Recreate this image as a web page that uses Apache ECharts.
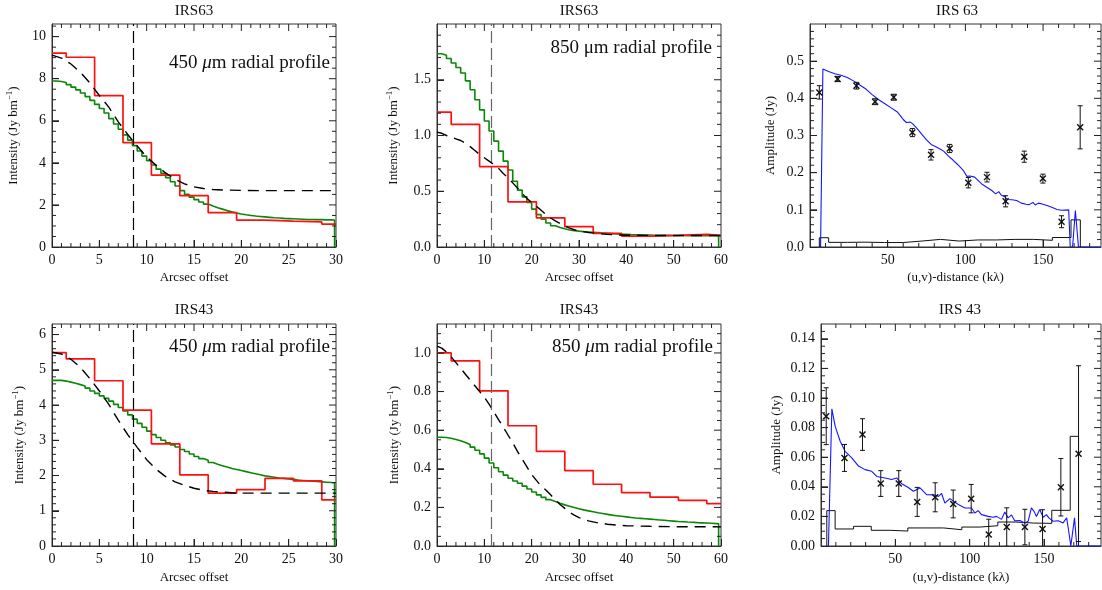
<!DOCTYPE html>
<html><head><meta charset="utf-8">
<script src="https://cdn.jsdelivr.net/npm/echarts@6/dist/echarts.min.js"></script>
<style>html,body{margin:0;padding:0;background:#fff}#c{width:1102px;height:590px}</style>
</head><body><div id="c"></div>
<script>
// ================= DATA =================
const redEdges450 = [0,1.5,4.5,7.5,10.5,13.5,16.5,19.5,22.5,25.5,28.5,30];
const redEdges850 = [0,3,9,15,21,27,33,39,45,51,57,60];
const greenStep450 = 0.5, greenEnd450 = 29.85;
const greenStep850 = 1.0, greenEnd850 = 59.5;
const beam450 = 8.6, beam850 = 11.5;

const red63_450 = [9.22,9.02,7.2,4.96,3.42,2.44,1.63,1.28,1.23,1.19,1.09];
const green63_450 = [7.89,7.87,7.82,7.72,7.6,7.47,7.32,7.15,6.97,6.78,
  6.58,6.37,6.1,5.85,5.6,5.33,5.08,4.82,4.56,4.32,
  4.1,3.9,3.7,3.5,3.3,3.1,2.9,2.68,2.5,2.37,
  2.25,2.14,2.04,1.95,1.87,1.8,1.73,1.67,1.62,1.57,
  1.53,1.5,1.47,1.45,1.43,1.41,1.39,1.38,1.36,1.35,
  1.34,1.33,1.32,1.31,1.31,1.3,1.3,1.29,1.29,1.28];
const dash63_450x = [0,1,2,3,4,5,6,7,8,9,10,11,12,13,14,15,16,17,18,20,22,25,30];
const dash63_450y = [9.12,8.98,8.7,8.3,7.8,7.2,6.65,5.95,5.35,4.8,4.28,3.88,3.52,3.22,3.0,2.86,2.78,2.73,2.71,2.69,2.68,2.68,2.68];

const red63_850 = [1.21,1.10,0.72,0.405,0.262,0.182,0.122,0.098,0.104,0.113,0.104];
const green63_850 = [1.733,1.72,1.69,1.65,1.61,1.56,1.49,1.41,1.32,1.23,
  1.13,1.04,0.95,0.86,0.77,0.69,0.59,0.51,0.45,0.4,
  0.34,0.29,0.25,0.215,0.19,0.175,0.163,0.153,0.147,0.142,
  0.138,0.135,0.132,0.129,0.126,0.123,0.12,0.117,0.115,0.113,
  0.111,0.11,0.109,0.108,0.107,0.106,0.105,0.104,0.104,0.103,
  0.103,0.103,0.102,0.102,0.102,0.102,0.101,0.101,0.101,0.101];
const dash63_850x = [0,1,2,3,4,5,6,7,8,9,10,11,12,13,14,15,16,17,18,19,20,21,22,23,24,25,26,27,28,29,30,32,34,36,38,40,45,50,55,60];
const dash63_850y = [1.03,1.02,1.0,0.985,0.97,0.955,0.93,0.9,0.865,0.83,0.8,0.77,0.74,0.705,0.66,0.62,0.575,0.53,0.48,0.435,0.4,0.365,0.33,0.29,0.26,0.235,0.21,0.19,0.17,0.155,0.145,0.13,0.12,0.113,0.108,0.105,0.104,0.103,0.103,0.103];

const red43_450 = [5.49,5.31,4.69,3.855,2.9,2.02,1.5,1.6,1.92,1.85,1.31];
const green43_450 = [4.70,4.70,4.68,4.65,4.62,4.58,4.54,4.48,4.4,4.33,
  4.26,4.19,4.11,4.02,3.93,3.83,3.72,3.6,3.48,3.37,
  3.26,3.16,3.08,3.0,2.93,2.87,2.81,2.74,2.68,2.61,
  2.54,2.48,2.43,2.37,2.32,2.28,2.24,2.2,2.17,2.14,
  2.11,2.08,2.05,2.02,1.99,1.97,1.95,1.93,1.92,1.9,
  1.89,1.87,1.86,1.85,1.84,1.83,1.82,1.81,1.8,1.79];
const dash43_450x = [0,1,2,3,4,5,6,7,8,9,10,11,12,13,14,15,16,17,18,19,20,25,30];
const dash43_450y = [5.5,5.45,5.3,5.07,4.75,4.4,4.02,3.57,3.16,2.8,2.45,2.18,1.97,1.82,1.72,1.64,1.58,1.55,1.53,1.51,1.5,1.5,1.5];

const red43_850 = [1.0,0.959,0.804,0.623,0.49,0.39,0.32,0.277,0.253,0.236,0.219];
const green43_850 = [0.563,0.562,0.558,0.552,0.545,0.536,0.526,0.512,0.496,0.477,
  0.455,0.43,0.405,0.385,0.367,0.351,0.337,0.325,0.31,0.295,
  0.28,0.265,0.252,0.24,0.23,0.221,0.213,0.206,0.199,0.193,
  0.187,0.182,0.177,0.172,0.168,0.164,0.16,0.157,0.154,0.151,
  0.148,0.145,0.143,0.141,0.139,0.137,0.135,0.133,0.131,0.129,
  0.127,0.126,0.124,0.123,0.121,0.12,0.119,0.118,0.116,0.115];
const dash43_850x = [0,1,2,3,4,5,6,7,8,9,10,11,12,13,14,15,16,17,18,19,20,21,22,23,24,25,26,27,28,29,30,32,34,36,38,40,45,50,55,60];
const dash43_850y = [1.035,1.025,1.005,0.98,0.95,0.92,0.89,0.86,0.83,0.8,0.77,0.735,0.695,0.655,0.615,0.575,0.535,0.49,0.45,0.41,0.37,0.34,0.31,0.29,0.265,0.24,0.215,0.195,0.175,0.16,0.147,0.13,0.12,0.113,0.108,0.105,0.102,0.1,0.1,0.1];

const visX63 = [6.0,17.8,29.9,41.9,53.9,65.9,77.9,89.9,101.9,113.9,125.9,137.9,149.9,161.9,173.9];
const visY63 = [0.416,0.452,0.434,0.391,0.403,0.308,0.248,0.265,0.173,0.188,0.123,0.243,0.184,0.068,0.322];
const visE63 = [0.018,0.007,0.009,0.008,0.008,0.011,0.014,0.011,0.014,0.013,0.015,0.015,0.012,0.016,0.058];
const noiseEdges63 = [6,12,24,36,48,60,72,84,96,108,120,132,144,156,168,174];
const noise63 = [0.025,0.0125,0.013,0.012,0.012,0.016,0.0205,0.016,0.019,0.019,0.0205,0.0205,0.018,0.0255,0.073];
const model63 = [[6.8,0],[8.3,0.479],[12,0.472],[16,0.466],[20,0.462],[24,0.456],[28,0.447],[32,0.436],[36,0.425],[40,0.41],[44,0.397],[48,0.386],[52,0.375],[56,0.364],[58,0.354],[60,0.343],[62,0.335],[64.5,0.336],[66,0.332],[68.7,0.32],[72,0.303],[75,0.288],[78,0.276],[81,0.27],[84,0.263],[86,0.258],[89,0.245],[92,0.234],[95,0.222],[98.5,0.207],[101,0.19],[103,0.191],[106,0.188],[108,0.18],[111,0.168],[114,0.16],[117,0.152],[119.5,0.143],[121.5,0.149],[123,0.14],[125,0.136],[127,0.128],[130,0.127],[133,0.125],[136,0.118],[139,0.115],[141,0.114],[143.5,0.12],[145,0.113],[147,0.118],[150,0.115],[153,0.111],[156,0.106],[159,0.101],[162,0.099],[166.5,0.1],[167.5,0],[169,0],[170.8,0.098],[172.8,0],[187,0]];

const visX43 = [3.5,15.8,27.9,40.2,52.3,64.7,76.8,88.9,101,112.8,124.9,137.1,149,161.3,173.2];
const visY43 = [0.0877,0.0595,0.0753,0.0422,0.0422,0.0298,0.0329,0.0284,0.032,0.0077,0.0128,0.0128,0.0115,0.0397,0.0624];
const visE43 = [0.0192,0.0091,0.0107,0.0087,0.0087,0.0098,0.0098,0.0094,0.0096,0.0104,0.013,0.012,0.013,0.0194,0.0594];
const noiseEdges43 = [3.9,9.5,21.9,33.8,46.5,58.4,70.5,82.4,94.7,107,118.9,131,142.9,155.2,167.6,173.2];
const noise43 = [0.0239,0.0115,0.0133,0.0106,0.0101,0.0122,0.0122,0.011,0.0128,0.0137,0.0162,0.0155,0.0153,0.0241,0.0741];
const model43 = [[5,0],[7.3,0.0927],[9.5,0.081],[12.9,0.0708],[16.2,0.064],[20.7,0.0595],[25.2,0.054],[29.6,0.0516],[34.1,0.0505],[37.5,0.047],[43.1,0.046],[47.5,0.0449],[50.9,0.046],[54.3,0.042],[58.7,0.0395],[62.1,0.037],[66.6,0.0392],[71,0.0347],[76.6,0.0345],[79,0.0335],[81.1,0.0355],[83.3,0.029],[86.7,0.032],[92.3,0.028],[96.8,0.0257],[101.2,0.0257],[103.5,0.0223],[105.7,0.0239],[107.9,0.0212],[112.4,0.02],[115.8,0.0194],[118,0.02],[121.4,0.018],[123.6,0.023],[125.8,0.019],[128.1,0.021],[130.3,0.017],[133.7,0.0172],[137,0.0156],[139.3,0.0167],[141.5,0.0257],[143.3,0.0234],[144.9,0.02],[147.1,0.0246],[149.4,0.0194],[151.6,0.0212],[153.2,0.019],[156.1,0.0167],[159.5,0.0171],[162.8,0.0156],[165.2,0.019],[166.3,0.012],[168,0],[170.5,0.019],[172,0],[188,0]];

// ================= BUILD =================
const FF = "'Liberation Serif','Times New Roman',serif";
const TXT = '#111';
const grids = [], xAxes = [], yAxes = [], series = [], graphics = [];

const intensityName = '{a|Intensity (Jy bm}{s|\u22121}{a|)}';
const nameStyle = {fontFamily:FF, fontSize:13, color:TXT,
  rich:{a:{fontFamily:FF, fontSize:13, color:TXT}, s:{fontFamily:FF, fontSize:9, color:TXT, padding:[0,0,8,0]}}};

function tickValues(max, step) {
  const out = [];
  for (let i = 1; i*step < max - 1e-9; i++) out.push(+(i*step).toFixed(6));
  return out;
}
function isMajor(v, major) { const r = v/major; return Math.abs(r - Math.round(r)) < 1e-6; }

// inward ticks on all four sides: a custom series placed through the axes' scales
// item = [value, length(px), side(0 = x ticks, 1 = y ticks)]
function tickSeries(ax, xs, ys) {
  const data = [];
  tickValues(xs.max, xs.minor).forEach(v => data.push([v, isMajor(v, xs.major) ? 7 : 4, 0]));
  tickValues(ys.max, ys.minor).forEach(v => data.push([v, isMajor(v, ys.major) ? 7 : 4, 1]));
  series.push({type:'custom', xAxisIndex:ax.xi, yAxisIndex:ax.yi, clip:true, z:5,
    data, encode:{x:0},
    renderItem: function (params, api) {
      const v = api.value(0), len = api.value(1), side = api.value(2);
      const st = {stroke:'#222', lineWidth:1};
      if (side === 0) {
        const b = api.coord([v, ys.min]), t = api.coord([v, ys.max]);
        return {type:'group', children:[
          {type:'line', shape:{x1:b[0], y1:b[1], x2:b[0], y2:b[1]-len}, style:st},
          {type:'line', shape:{x1:t[0], y1:t[1], x2:t[0], y2:t[1]+len}, style:st}]};
      }
      const l = api.coord([xs.min, v]), r = api.coord([xs.max, v]);
      return {type:'group', children:[
        {type:'line', shape:{x1:l[0], y1:l[1], x2:l[0]+len, y2:l[1]}, style:st},
        {type:'line', shape:{x1:r[0], y1:r[1], x2:r[0]-len, y2:r[1]}, style:st}]};
    }});
}

function panel(rect, xs, ys) {
  const g = grids.length;
  grids.push({left:rect[0], top:rect[1], width:rect[2], height:rect[3], show:true, borderColor:'#333', borderWidth:1});
  const xi = xAxes.length, yi = yAxes.length;
  xAxes.push({gridIndex:g, type:'value', position:'bottom', min:xs.min, max:xs.max, interval:xs.major,
    axisLine:{show:true, onZero:false, lineStyle:{color:'#333'}},
    axisTick:{show:true, inside:true, length:7, lineStyle:{color:'#222'}}, splitLine:{show:false},
    axisLabel:{show:true, margin:6, fontFamily:FF, fontSize:14, color:TXT, formatter:xs.fmt,
      showMinLabel:xs.showMin, showMaxLabel:xs.showMax},
    name:xs.name, nameLocation:'middle', nameGap:xs.gap, nameTextStyle:nameStyle});
  yAxes.push({gridIndex:g, type:'value', position:'left', min:ys.min, max:ys.max, interval:ys.major,
    axisLine:{show:true, onZero:false, lineStyle:{color:'#333'}},
    axisTick:{show:true, inside:true, length:7, lineStyle:{color:'#222'}}, splitLine:{show:false},
    axisLabel:{show:true, margin:6, fontFamily:FF, fontSize:14, color:TXT, formatter:ys.fmt,
      showMinLabel:true, showMaxLabel:ys.showMax},
    name:ys.name, nameLocation:'middle', nameGap:ys.gap, nameTextStyle:nameStyle});
  const ax = {xi, yi};
  tickSeries(ax, xs, ys);
  return ax;
}

function addLine(ax, data, color, width, extra) {
  series.push(Object.assign({type:'line', xAxisIndex:ax.xi, yAxisIndex:ax.yi, data, symbol:'none', showSymbol:false,
    lineStyle:{color, width}, z:2}, extra||{}));
}
function stepData(edges, vals) {
  const d = vals.map((v,i)=>[edges[i], v]);
  d.push([edges[edges.length-1], vals[vals.length-1]]);
  return d;
}
function greenData(vals, step, end) {
  const d = vals.map((v,i)=>[i*step, v]);
  d.push([end, vals[vals.length-1]]);
  d.push([end, 0]);
  return d;
}
function pairs(xs, ys){ return xs.map((x,i)=>[x, ys[i]]); }
function noiseData(edges, vals) {
  const d = [[edges[0], 0]];
  vals.forEach((v,i)=>{ d.push([edges[i], v]); });
  d.push([edges[edges.length-1], vals[vals.length-1]]);
  d.push([edges[edges.length-1], 0]);
  return d;
}

function profilePanel(rect, xs, ys, red, redEdges, green, gStep, gEnd, dx, dy, beam, beamColor) {
  const ax = panel(rect, xs, ys);
  addLine(ax, greenData(green, gStep, gEnd), '#0a870a', 1.6, {step:'end', z:2});
  addLine(ax, stepData(redEdges, red), '#ff1010', 1.7, {step:'end', z:3});
  addLine(ax, pairs(dx, dy), '#000', 1.4, {z:4, lineStyle:{color:'#000', width:1.4, type:[11,7]},
    markLine:{silent:true, symbol:'none', label:{show:false}, animation:false,
      lineStyle:{color:beamColor, width:1.2, type:[12,5]}, data:[{xAxis:beam}]}});
}

function errRender(params, api) {
  const x = api.value(0), y = api.value(1), e = api.value(2);
  const c = api.coord([x, y]);
  const hi = api.coord([x, y + e]);
  const lo = api.coord([x, y - e]);
  const st = {stroke:'#111', lineWidth:1};
  const mk = {stroke:'#111', lineWidth:1.4};
  return {type:'group', children:[
    {type:'line', shape:{x1:c[0], y1:hi[1], x2:c[0], y2:lo[1]}, style:st},
    {type:'line', shape:{x1:c[0]-2.5, y1:hi[1], x2:c[0]+2.5, y2:hi[1]}, style:st},
    {type:'line', shape:{x1:c[0]-2.5, y1:lo[1], x2:c[0]+2.5, y2:lo[1]}, style:st},
    {type:'line', shape:{x1:c[0]-3, y1:c[1]-3, x2:c[0]+3, y2:c[1]+3}, style:mk},
    {type:'line', shape:{x1:c[0]-3, y1:c[1]+3, x2:c[0]+3, y2:c[1]-3}, style:mk}
  ]};
}

function visPanel(rect, xs, ys, vx, vy, ve, nEdges, noise, model) {
  const ax = panel(rect, xs, ys);
  addLine(ax, noiseData(nEdges, noise), '#111', 1, {step:'end', z:2});
  addLine(ax, model, '#1515ff', 1.1, {z:3});
  series.push({type:'custom', xAxisIndex:ax.xi, yAxisIndex:ax.yi, clip:true, z:5,
    data: vx.map((x,i)=>[x, vy[i], ve[i]]), encode:{x:0, y:1}, renderItem:errRender});
}

const fInt = v => String(v);
const f1 = v => v.toFixed(1);
const f2 = v => v.toFixed(2);
const xArc30 = {min:0, max:30, major:5, minor:1, fmt:fInt, showMin:true, showMax:true, name:'Arcsec offset', gap:24};
const xArc60 = {min:0, max:60, major:10, minor:2, fmt:fInt, showMin:true, showMax:true, name:'Arcsec offset', gap:24};
const uvName = '(u,v)-distance (k\u03bb)';

profilePanel([52,24,284,223], xArc30,
  {min:0, max:10.6, major:2, minor:0.5, fmt:fInt, showMax:false, name:intensityName, gap:30},
  red63_450, redEdges450, green63_450, greenStep450, greenEnd450, dash63_450x, dash63_450y, beam450, '#000');
profilePanel([437,24,284,223], xArc60,
  {min:0, max:2.0, major:0.5, minor:0.1, fmt:f1, showMax:false, name:intensityName, gap:35},
  red63_850, redEdges850, green63_850, greenStep850, greenEnd850, dash63_850x, dash63_850y, beam850, '#666');
visPanel([810,24,291,223],
  {min:0, max:187.3, major:50, minor:10, fmt:fInt, showMin:false, showMax:false, name:uvName, gap:24},
  {min:0, max:0.6, major:0.1, minor:0.02, fmt:f1, showMax:false, name:'Amplitude (Jy)', gap:33},
  visX63, visY63, visE63, noiseEdges63, noise63, model63);
profilePanel([52,324,284,222], Object.assign({}, xArc30, {gap:25}),
  {min:0, max:6.3, major:1, minor:0.2, fmt:fInt, showMax:false, name:intensityName, gap:24},
  red43_450, redEdges450, green43_450, greenStep450, greenEnd450, dash43_450x, dash43_450y, beam450, '#000');
profilePanel([437,324,284,222], Object.assign({}, xArc60, {gap:25}),
  {min:0, max:1.15, major:0.2, minor:0.05, fmt:f1, showMax:false, name:intensityName, gap:34},
  red43_850, redEdges850, green43_850, greenStep850, greenEnd850, dash43_850x, dash43_850y, beam850, '#666');
visPanel([821,324,280,222],
  {min:0, max:188.3, major:50, minor:10, fmt:fInt, showMin:false, showMax:false, name:uvName, gap:25},
  {min:0, max:0.15, major:0.02, minor:0.005, fmt:f2, showMax:false, name:'Amplitude (Jy)', gap:38},
  visX43, visY43, visE43, noiseEdges43, noise43, model43);

function txt(x, y, text, size, align, rich) {
  const style = {text, fontFamily:FF, fontSize:size, fill:TXT, align:align, verticalAlign:'middle'};
  if (rich) style.rich = rich;
  graphics.push({type:'text', x, y, silent:true, style});
}
txt(194, 11, 'IRS63', 15, 'center');
txt(579, 11, 'IRS63', 15, 'center');
txt(957, 11, 'IRS 63', 15, 'center');
txt(194, 310, 'IRS43', 15, 'center');
txt(579, 310, 'IRS43', 15, 'center');
txt(960, 310, 'IRS 43', 15, 'center');
const itRich = {i:{fontFamily:FF, fontSize:19, fontStyle:'italic', fill:TXT}};
txt(330, 63, '450 {i|\u03bc}m radial profile', 19, 'right', itRich);
txt(712, 48, '850 \u03bcm radial profile', 19, 'right');
txt(330, 347, '450 {i|\u03bc}m radial profile', 19, 'right', itRich);
txt(713, 347, '850 {i|\u03bc}m radial profile', 19, 'right', itRich);

const chart = echarts.init(document.getElementById('c'), null, {renderer:'canvas'});
chart.setOption({animation:false, grid:grids, xAxis:xAxes, yAxis:yAxes, series, graphic:graphics});
</script></body></html>
